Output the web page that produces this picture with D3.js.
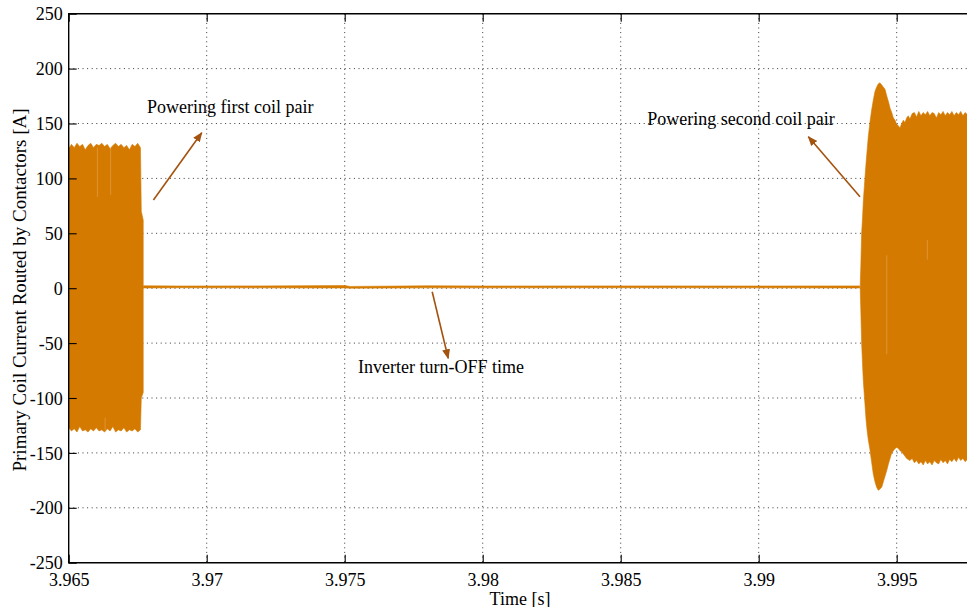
<!DOCTYPE html>
<html>
<head>
<meta charset="utf-8">
<script src="https://cdn.jsdelivr.net/npm/d3@7"></script>
<style>
  html, body { margin: 0; padding: 0; background: #fff; }
  svg { display: block; }
  text { font-family: "Liberation Serif", "Times New Roman", serif; fill: #000; }
</style>
</head>
<body>
<svg id="chart" width="967" height="607"></svg>
<script>
// Axis ticks
const xTicks = [3.965, 3.97, 3.975, 3.98, 3.985, 3.99, 3.995];
const xTickLabels = ["3.965", "3.97", "3.975", "3.98", "3.985", "3.99", "3.995"];
const yTicks = [-250, -200, -150, -100, -50, 0, 50, 100, 150, 200, 250];

// Current envelope rows: [time s, upper A, lower A]
const burst1 = [
  [3.96500, 127, -127], [3.96510, 131, -130], [3.96520, 128, -128],
  [3.96530, 132, -131], [3.96540, 129, -126], [3.96550, 131, -130],
  [3.96560, 126, -129], [3.96570, 130, -131], [3.96580, 132, -128],
  [3.96590, 128, -130], [3.96600, 131, -127], [3.96610, 130, -130],
  [3.96620, 132, -129], [3.96630, 129, -131], [3.96640, 131, -128],
  [3.96650, 127, -130], [3.96660, 130, -126], [3.96670, 132, -131],
  [3.96680, 129, -129], [3.96690, 131, -130], [3.96700, 128, -127],
  [3.96710, 130, -131], [3.96720, 126, -129], [3.96730, 131, -130],
  [3.96740, 129, -128], [3.96750, 132, -131], [3.96760, 128, -129],
  [3.96763, 70, -100], [3.96770, 62, -95]
];
const inverterOff = [
  [3.96771, 2.2, 0.2], [3.9690, 2.0, 0.4], [3.9720, 2.1, 0.3],
  [3.9750, 2.4, 0.2], [3.9752, 1.6, 0.0], [3.9780, 2.2, 0.3],
  [3.9800, 2.0, 0.3], [3.9850, 2.1, 0.4], [3.9900, 2.0, 0.3],
  [3.99366, 2.1, 0.2]
];
const burst2 = [
  [3.99368, 4, -2], [3.99370, 20, -20], [3.99373, 50, -50],
  [3.99376, 63, -68], [3.99379, 79, -84], [3.99384, 97, -102],
  [3.99389, 114, -120], [3.99393, 126, -130], [3.99397, 138, -138],
  [3.99403, 151, -147], [3.99409, 162, -158], [3.99415, 171, -169],
  [3.99421, 179, -176], [3.99427, 183, -181], [3.99433, 186, -184],
  [3.99439, 187, -183], [3.99446, 185, -181], [3.99452, 183, -176],
  [3.99458, 181, -171], [3.99464, 175, -166], [3.99470, 170, -160],
  [3.99476, 164, -155], [3.99482, 160, -150], [3.99488, 155, -148],
  [3.99494, 153, -146], [3.99500, 149, -145], [3.99506, 148, -146],
  [3.99512, 146, -148], [3.99518, 150, -149], [3.99524, 153, -151],
  [3.99530, 151, -153], [3.99536, 155, -155], [3.99542, 157, -156],
  [3.99548, 154, -157], [3.99556, 159, -155], [3.99564, 160, -159],
  [3.99572, 156, -157], [3.99580, 161, -160], [3.99588, 157, -158],
  [3.99596, 160, -161], [3.99604, 158, -157], [3.99612, 161, -160],
  [3.99620, 157, -158], [3.99628, 160, -161], [3.99636, 159, -157],
  [3.99644, 155, -159], [3.99652, 160, -160], [3.99660, 158, -156],
  [3.99668, 161, -159], [3.99676, 157, -157], [3.99684, 160, -160],
  [3.99692, 158, -156], [3.99700, 161, -158], [3.99708, 157, -155],
  [3.99716, 160, -158], [3.99724, 158, -154], [3.99732, 161, -157],
  [3.99740, 157, -155], [3.99748, 160, -158], [3.99756, 158, -156],
  [3.99764, 160, -157], [3.99780, 158, -155], [3.99800, 159, -157]
];
// Lighter cycle streaks inside the bursts: [time s, from A, to A]
const streaks = [
  [3.96604, 128, 83], [3.96652, 128, 85], [3.96632, -118, -129],
  [3.99464, 30, -60], [3.99611, 44, 26]
];

// Annotations: text anchor and arrow tail/head in data units
const notes = [
  { text: "Powering first coil pair", t: 3.96784, v: 159.8, from: [3.96807, 80.4], to: [3.96982, 141.6] },
  { text: "Powering second coil pair", t: 3.98596, v: 148.6, from: [3.99367, 83.3], to: [3.99180, 138.0] },
  { text: "Inverter turn-OFF time", t: 3.97548, v: -77.2, from: [3.97817, -3.2], to: [3.97875, -63.8] }
];

const svg = d3.select("#chart");
const padLeft = 68.7, padTop = 13.7, padBottom = 562.7;
const x = d3.scaleLinear().domain([3.965, 3.998]).range([padLeft, padLeft + 0.033 * 27600]);
const y = d3.scaleLinear().domain([-250, 250]).range([padBottom, padTop]);
const padRight = x.range()[1];

const traceColor = "#d57a00";
const arrowColor = "#a3530f";
const serif = "'Liberation Serif','Times New Roman',serif";

const defs = svg.append("defs");
defs.append("clipPath").attr("id", "plotClip")
  .append("rect").attr("x", padLeft).attr("y", padTop)
  .attr("width", padRight - padLeft).attr("height", padBottom - padTop);

// Dotted grid
const grid = svg.append("g").attr("stroke", "#222").attr("stroke-width", 0.9)
  .attr("stroke-dasharray", "1,3.6");
grid.selectAll("line.gx").data(xTicks.slice(1)).join("line").attr("class", "gx")
  .attr("x1", d => x(d)).attr("x2", d => x(d))
  .attr("y1", padTop).attr("y2", padBottom);
grid.selectAll("line.gy").data(yTicks.slice(1, -1)).join("line").attr("class", "gy")
  .attr("x1", padLeft).attr("x2", padRight)
  .attr("y1", d => y(d)).attr("y2", d => y(d));

// Current trace drawn as its envelope band
const plot = svg.append("g").attr("clip-path", "url(#plotClip)");
const band = d3.area().x(d => x(d[0])).y0(d => y(d[2])).y1(d => y(d[1]));
[burst1, inverterOff, burst2].forEach(seg => {
  plot.append("path").datum(seg).attr("d", band)
    .attr("fill", traceColor).attr("stroke", traceColor).attr("stroke-width", 0.6);
});
plot.selectAll("line.streak").data(streaks).join("line").attr("class", "streak")
  .attr("x1", d => x(d[0])).attr("x2", d => x(d[0]))
  .attr("y1", d => y(d[1])).attr("y2", d => y(d[2]))
  .attr("stroke", "#fff").attr("stroke-opacity", 0.2).attr("stroke-width", 1);

// Axes with inward ticks
const fs = "18px";
const yAxis = svg.append("g").attr("transform", `translate(${padLeft},0)`)
  .call(d3.axisLeft(y).tickValues(yTicks).tickSize(-8).tickPadding(6)
    .tickFormat(d => String(d)));
const xAxis = svg.append("g").attr("transform", `translate(0,${padBottom})`)
  .call(d3.axisBottom(x).tickValues(xTicks).tickSize(-8).tickPadding(11)
    .tickFormat((d, i) => xTickLabels[i]));
const xTop = svg.append("g").attr("transform", `translate(0,${padTop})`)
  .call(d3.axisTop(x).tickValues(xTicks).tickSize(-8).tickFormat(""));
[yAxis, xAxis, xTop].forEach(g => {
  g.attr("font-family", serif).attr("font-size", fs);
  g.select(".domain").remove();
  g.selectAll(".tick line").attr("stroke", "#000").attr("stroke-width", 1.1);
  g.selectAll("text").attr("fill", "#000");
});
yAxis.selectAll("text").attr("dy", "0.34em");

// Frame (left, bottom, top)
svg.append("path")
  .attr("d", `M${padRight},${padTop}H${padLeft}V${padBottom}H${padRight}`)
  .attr("fill", "none").attr("stroke", "#000").attr("stroke-width", 1.4);

// Axis titles
svg.append("text").attr("x", 520).attr("y", 604.5).attr("text-anchor", "middle")
  .attr("font-size", fs).text("Time [s]");
svg.append("text").attr("transform", "translate(25.5,290) rotate(-90)")
  .attr("text-anchor", "middle").attr("font-size", "19px")
  .text("Primary Coil Current Routed by Contactors [A]");

// Annotations with arrows
defs.append("marker").attr("id", "arrowHead")
  .attr("viewBox", "0 0 10 10").attr("refX", 9).attr("refY", 5)
  .attr("markerWidth", 10).attr("markerHeight", 10).attr("markerUnits", "userSpaceOnUse")
  .attr("orient", "auto")
  .append("path").attr("d", "M0,1 L10,5 L0,9 Z").attr("fill", arrowColor);
const ann = svg.append("g");
ann.selectAll("line").data(notes).join("line")
  .attr("x1", d => x(d.from[0])).attr("y1", d => y(d.from[1]))
  .attr("x2", d => x(d.to[0])).attr("y2", d => y(d.to[1]))
  .attr("stroke", arrowColor).attr("stroke-width", 1.6)
  .attr("marker-end", "url(#arrowHead)");
ann.selectAll("text").data(notes).join("text")
  .attr("x", d => x(d.t)).attr("y", d => y(d.v))
  .attr("font-size", fs).text(d => d.text);
</script>
</body>
</html>
